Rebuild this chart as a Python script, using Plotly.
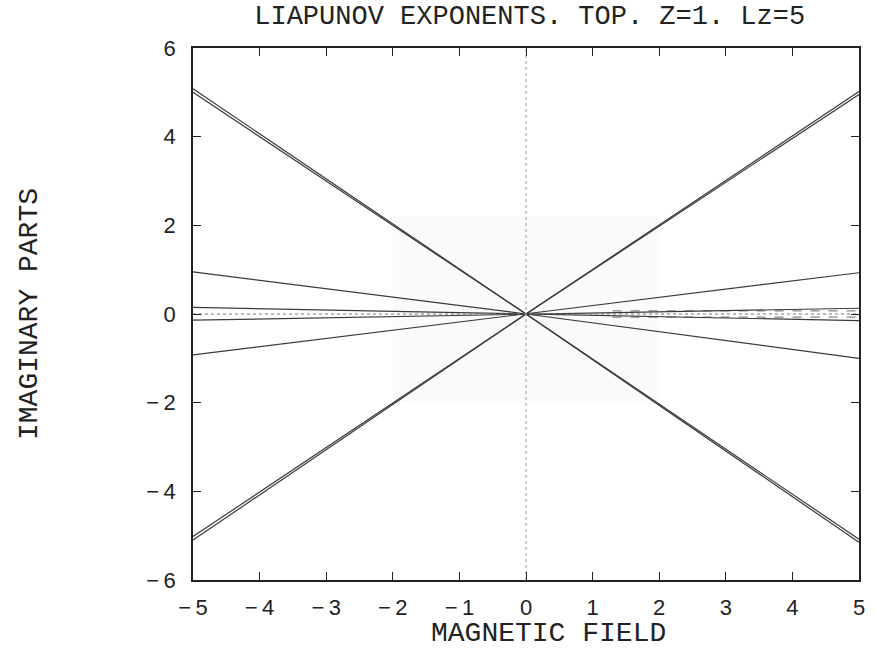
import plotly.graph_objects as go

# Endpoint values (imaginary parts at B=-5 and B=+5); branches meet at origin
branch_names = ["s1a", "s1b", "m1", "f1", "f2", "m2", "s2a", "s2b"]
y_at_left = [5.08, 5.00, 0.95, 0.15, -0.14, -0.92, -5.02, -5.10]
y_at_right = [-5.15, -5.08, -1.00, -0.15, 0.13, 0.93, 4.95, 5.02]
x_left, x_center, x_right = -5, 0, 5

# near-zero broken branches on right side
extra_x = [1.3, 5]
extra_y = [0.07, -0.07]

x_ticks = [-5, -4, -3, -2, -1, 0, 1, 2, 3, 4, 5]
y_ticks = [-6, -4, -2, 0, 2, 4, 6]

mono = "Liberation Mono, Courier New, monospace"
sans = "Liberation Sans, Arial, sans-serif"


def lab(v):
    return ("\u2212\u2009" + str(-v)) if v < 0 else str(v)


fig = go.Figure()
for name, yl, yr in zip(branch_names, y_at_left, y_at_right):
    fig.add_trace(go.Scatter(x=[x_left, x_center, x_right], y=[yl, 0, yr], mode="lines",
                             line=dict(color="#3a3a3a", width=1.2), name=name, showlegend=False))
for ye in extra_y:
    fig.add_trace(go.Scatter(x=extra_x, y=[ye, ye], mode="lines",
                             line=dict(color="#444444", width=0.8, dash="dash"), showlegend=False))
# dotted zero lines
fig.add_trace(go.Scatter(x=[x_left, x_right], y=[0, 0], mode="lines",
                         line=dict(color="#777777", width=1, dash="dot"), showlegend=False))
fig.add_trace(go.Scatter(x=[0, 0], y=[-6, 6], mode="lines",
                         line=dict(color="#999999", width=1, dash="dot"), showlegend=False))

fig.add_shape(type="rect", x0=-2, x1=2, y0=-2, y1=2.2, layer="below",
              line=dict(width=0), fillcolor="#fafafa")

fig.add_annotation(text="MAGNETIC FIELD", xref="paper", yref="paper", x=0.534, y=-0.101,
                   xanchor="center", yanchor="middle", showarrow=False,
                   font=dict(family=mono, size=28, color="#222222"))

axis_common = dict(showgrid=False, zeroline=False, showline=True, linecolor="#222222",
                   linewidth=1.5, mirror="ticks", ticks="inside", ticklen=8, tickcolor="#222222",
                   tickfont=dict(family=sans, size=22, color="#222222"))

fig.update_layout(
    width=877, height=654,
    margin=dict(l=193, r=15, t=48, b=74),
    paper_bgcolor="white", plot_bgcolor="white",
    title=dict(text="LIAPUNOV EXPONENTS. TOP. Z=1. Lz=5", x=0.604, xanchor="center", y=0.977,
               yanchor="middle", font=dict(family=mono, size=27, color="#222222")),
    xaxis=dict(range=[-5, 5], tickvals=x_ticks, ticktext=[lab(v) for v in x_ticks],
               ticklabelstandoff=7, **axis_common),
    yaxis=dict(range=[-6, 6], tickvals=y_ticks, ticktext=[lab(v) for v in y_ticks],
               ticklabelstandoff=11,
               title=dict(text="IMAGINARY PARTS", standoff=101,
                          font=dict(family=mono, size=28, color="#222222")),
               **axis_common),
)
fig.write_html("out.html")
